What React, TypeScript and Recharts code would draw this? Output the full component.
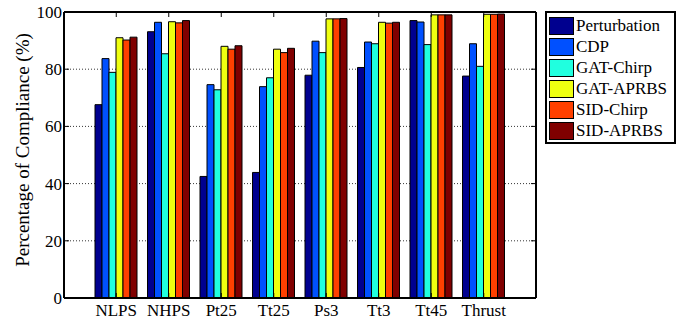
import { BarChart, Bar, XAxis, YAxis, CartesianGrid } from 'recharts'

const categories = ['NLPS', 'NHPS', 'Pt25', 'Tt25', 'Ps3', 'Tt3', 'Tt45', 'Thrust']
const perturbation = [67.6, 93.1, 42.5, 43.9, 77.9, 80.6, 97.0, 77.6]
const cdp = [83.7, 96.4, 74.6, 73.9, 89.8, 89.5, 96.5, 88.9]
const gatChirp = [78.9, 85.4, 72.8, 77.0, 85.8, 88.9, 88.6, 81.0]
const gatAprbs = [91.0, 96.6, 88.0, 87.0, 97.6, 96.4, 99.0, 99.2]
const sidChirp = [90.2, 96.2, 87.0, 85.8, 97.6, 96.1, 99.0, 99.2]
const sidAprbs = [91.2, 97.0, 88.2, 87.3, 97.7, 96.4, 99.0, 99.3]
const yTicks = [0, 20, 40, 60, 80, 100]

const series = [
  { key: 'Perturbation', values: perturbation, color: '#00008f' },
  { key: 'CDP', values: cdp, color: '#0050ff' },
  { key: 'GAT-Chirp', values: gatChirp, color: '#20ffdf' },
  { key: 'GAT-APRBS', values: gatAprbs, color: '#efff10' },
  { key: 'SID-Chirp', values: sidChirp, color: '#ff4000' },
  { key: 'SID-APRBS', values: sidAprbs, color: '#800000' },
]

const data = categories.map((name, i) => {
  const row: Record<string, string | number> = { name }
  series.forEach((s) => {
    row[s.key] = s.values[i]
  })
  return row
})

const FONT = '"Liberation Serif", "Times New Roman", serif'
const PLOT = { left: 64, right: 536, top: 12, bottom: 298 }
const TICK_LEN = 5

function LeftTick({ y, payload }: any) {
  return (
    <g>
      <line x1={PLOT.left} x2={PLOT.left + TICK_LEN} y1={y} y2={y} stroke="#000" />
      <line x1={PLOT.right} x2={PLOT.right - TICK_LEN} y1={y} y2={y} stroke="#000" />
      <text x={PLOT.left - 2} y={y} dy={6} textAnchor="end" fontFamily={FONT} fontSize={17} fill="#000">
        {payload.value}
      </text>
    </g>
  )
}

function BottomTick({ x, payload }: any) {
  return (
    <g>
      <line x1={x} x2={x} y1={PLOT.bottom} y2={PLOT.bottom - TICK_LEN} stroke="#000" />
      <line x1={x} x2={x} y1={PLOT.top} y2={PLOT.top + TICK_LEN} stroke="#000" />
      <text x={x} y={PLOT.bottom + 18} textAnchor="middle" fontFamily={FONT} fontSize={17} fill="#000">
        {payload.value}
      </text>
    </g>
  )
}

function YLabel() {
  const cx = 29
  const cy = 150
  return (
    <text
      x={cx}
      y={cy}
      transform={`rotate(-90 ${cx} ${cy})`}
      textAnchor="middle"
      fontFamily={FONT}
      fontSize={19}
      fill="#000"
    >
      Percentage of Compliance (%)
    </text>
  )
}

// plot frame: top and right edges (left/bottom come from the axes)
function Frame() {
  return (
    <g>
      <line x1={PLOT.left} x2={PLOT.right} y1={PLOT.top} y2={PLOT.top} stroke="#000" strokeWidth={2} />
      <line x1={PLOT.right} x2={PLOT.right} y1={PLOT.top} y2={PLOT.bottom} stroke="#000" strokeWidth={2} />
    </g>
  )
}

function LegendBox() {
  return (
    <div
      style={{
        position: 'absolute',
        left: 545,
        top: 11,
        width: 127,
        height: 127,
        border: '2px solid #000',
        background: '#fff',
        paddingTop: 2,
        fontFamily: FONT,
        fontSize: 17,
        color: '#000',
      }}
    >
      {series.map((s) => (
        <div key={s.key} style={{ display: 'flex', alignItems: 'center', height: 21, paddingLeft: 2 }}>
          <div
            style={{
              width: 23,
              height: 16,
              background: s.color,
              border: '1px solid #000',
              marginRight: 2,
              flexShrink: 0,
            }}
          />
          <span style={{ lineHeight: '16px', whiteSpace: 'nowrap' }}>{s.key}</span>
        </div>
      ))}
    </div>
  )
}

export default function App() {
  return (
    <div style={{ position: 'absolute', left: 0, top: 0, width: 689, height: 327, background: '#fff' }}>
      <BarChart
        width={689}
        height={327}
        data={data}
        margin={{ top: PLOT.top, right: 689 - PLOT.right, bottom: 0, left: 20 }}
        barGap={0}
      >
        <CartesianGrid vertical={false} stroke="#000" strokeDasharray="1 2" strokeWidth={0.8} />
        <XAxis
          dataKey="name"
          height={327 - PLOT.bottom}
          padding={{ left: 26, right: 26 }}
          axisLine={{ stroke: '#000', strokeWidth: 2 }}
          tickLine={false}
          tick={<BottomTick />}
          interval={0}
        />
        <YAxis
          width={PLOT.left - 20}
          domain={[0, 100]}
          ticks={yTicks}
          axisLine={{ stroke: '#000', strokeWidth: 2 }}
          tickLine={false}
          tick={<LeftTick />}
          label={<YLabel />}
        />
        {series.map((s) => (
          <Bar
            key={s.key}
            dataKey={s.key}
            fill={s.color}
            stroke="#000"
            strokeWidth={1}
            barSize={7}
            isAnimationActive={false}
          />
        ))}
        <Frame />
      </BarChart>
      <LegendBox />
    </div>
  )
}
